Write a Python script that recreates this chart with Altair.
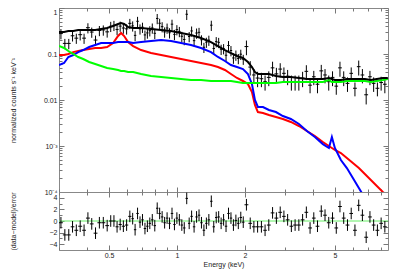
import altair as alt
import pandas as pd

# ---------------- data ----------------
# energy bin edges (keV)
edges = [0.300, 0.312, 0.325, 0.338, 0.351, 0.365, 0.380, 0.395, 0.411, 0.427, 0.444, 0.462, 0.481, 0.500,
         0.517, 0.534, 0.551, 0.569, 0.588, 0.608, 0.628,
         0.644, 0.660, 0.677, 0.694, 0.712, 0.730, 0.748, 0.767, 0.787, 0.807,
         0.827, 0.848, 0.870, 0.892, 0.915, 0.938, 0.962, 0.986, 1.011, 1.037,
         1.063, 1.090, 1.118, 1.146, 1.175, 1.205, 1.236, 1.267, 1.299, 1.332,
         1.366, 1.401, 1.436, 1.473, 1.510, 1.548, 1.588, 1.628, 1.669, 1.712,
         1.755, 1.800, 1.845, 1.892, 1.940, 1.990,
         2.07, 2.15, 2.23, 2.32, 2.41, 2.50, 2.60, 2.70, 2.81, 2.92,
         3.03, 3.15, 3.27, 3.40, 3.53, 3.67, 3.81, 3.96, 4.11, 4.27,
         4.44, 4.61, 4.79, 4.98, 5.17, 5.37, 5.58, 5.80, 6.02, 6.26,
         6.50, 6.75, 7.02, 7.29, 7.57, 7.87, 8.17, 8.49]

# normalized counts s^-1 keV^-1
flux = [0.278, 0.170, 0.170, 0.249, 0.221, 0.263, 0.221, 0.373, 0.300, 0.201, 0.325, 0.334, 0.303,
        0.400, 0.420, 0.342, 0.404, 0.367, 0.352, 0.464,
        0.409, 0.254, 0.514, 0.352, 0.383, 0.260, 0.287, 0.321, 0.368, 0.282,
        0.592, 0.466, 0.393, 0.302, 0.367, 0.290, 0.445, 0.267, 0.339, 0.310,
        0.243, 0.207, 0.731, 0.240, 0.317, 0.195, 0.286, 0.296, 0.204, 0.140,
        0.181, 0.200, 0.423, 0.132, 0.186, 0.179, 0.127, 0.131, 0.094, 0.153,
        0.119, 0.082, 0.095, 0.080, 0.099, 0.077,
        0.145, 0.052, 0.035, 0.030, 0.029, 0.025, 0.031, 0.050, 0.037, 0.047,
        0.038, 0.033, 0.025, 0.025, 0.025, 0.030, 0.042, 0.021, 0.032, 0.022,
        0.043, 0.035, 0.025, 0.031, 0.020, 0.050, 0.031, 0.023, 0.038, 0.018,
        0.053, 0.035, 0.013, 0.032, 0.023, 0.018, 0.024, 0.022]

flux_err = [0.070, 0.043, 0.043, 0.062, 0.055, 0.066, 0.055, 0.093, 0.075, 0.050, 0.081, 0.084, 0.076,
            0.100, 0.105, 0.086, 0.101, 0.092, 0.088, 0.116,
            0.102, 0.064, 0.128, 0.088, 0.096, 0.065, 0.072, 0.080, 0.092, 0.071,
            0.148, 0.117, 0.098, 0.076, 0.092, 0.073, 0.111, 0.067, 0.085, 0.078,
            0.061, 0.052, 0.183, 0.060, 0.079, 0.049, 0.072, 0.074, 0.051, 0.035,
            0.045, 0.050, 0.106, 0.033, 0.047, 0.045, 0.032, 0.033, 0.024, 0.038,
            0.030, 0.021, 0.024, 0.020, 0.025, 0.019,
            0.051, 0.018, 0.012, 0.011, 0.010, 0.009, 0.011, 0.018, 0.013, 0.016,
            0.013, 0.012, 0.009, 0.009, 0.009, 0.011, 0.015, 0.007, 0.011, 0.008,
            0.015, 0.012, 0.009, 0.011, 0.007, 0.018, 0.011, 0.008, 0.013, 0.006,
            0.019, 0.012, 0.005, 0.011, 0.008, 0.006, 0.008, 0.008]

# (data-model)/error
resid = [-0.3, -2.4, -2.4, -1.0, -1.6, -0.9, -1.6, 0.5, -0.5, -2.1, -0.3, -0.3, -0.8,
         0.0, 0.0, -1.0, -0.6, -0.9, -0.7, 0.8,
         0.4, -1.5, 1.3, -0.2, 0.2, -1.3, -0.9, -0.4, 0.2, -0.8,
         2.2, 1.3, 0.7, -0.3, 0.5, -0.4, 1.3, -0.6, 0.5, 0.2,
         -0.7, -1.2, 3.9, -0.4, 0.8, -1.0, 0.7, 1.0, -0.3, -1.6,
         -0.4, 0.2, 3.4, -1.0, 0.6, 0.7, -0.4, 0.2, -0.9, 1.3,
         0.5, -0.7, 0.1, -0.4, 0.6, -0.2,
         2.8, -0.4, -1.0, -1.0, -1.0, -1.6, -0.7, 1.4, 0.5, 1.5,
         0.8, 0.2, -0.9, -0.7, -0.7, 0.2, 1.5, -1.2, 0.5, -0.9,
         1.7, 1.0, -0.3, 0.5, -1.2, 2.5, 0.5, -0.7, 1.3, -1.6,
         2.7, 1.0, -2.8, 0.7, -0.7, -1.6, -0.4, -1.0]

# model curves (keV grid)
model_e = [0.300, 0.316, 0.330, 0.347, 0.365, 0.384, 0.408, 0.434, 0.461, 0.490,
           0.521, 0.548, 0.565, 0.583, 0.607, 0.639, 0.693, 0.767, 0.850, 0.941,
           1.042, 1.153, 1.277, 1.414, 1.518, 1.630, 1.733, 1.843, 1.959, 2.061,
           2.147, 2.213, 2.281, 2.402, 2.553, 2.742, 2.944, 3.193, 3.467, 3.760,
           4.080, 4.426, 4.707, 4.852, 5.002, 5.318, 5.653, 6.010, 6.389, 6.792,
           7.220, 7.675, 8.159, 8.585]

model_total = [0.301, 0.301, 0.316, 0.316, 0.333, 0.333, 0.333, 0.333, 0.350, 0.367,
               0.406, 0.449, 0.472, 0.449, 0.386, 0.367, 0.367, 0.350, 0.333, 0.316,
               0.286, 0.259, 0.223, 0.182, 0.149, 0.122, 0.105, 0.0905, 0.0819, 0.0670,
               0.0522, 0.0406, 0.0367, 0.0367, 0.0367, 0.0332, 0.0316, 0.0316, 0.0301, 0.0286,
               0.0286, 0.0286, 0.0301, 0.0286, 0.0272, 0.0272, 0.0286, 0.0286, 0.0286, 0.0286,
               0.0272, 0.0286, 0.0301, 0.0301]

model_red = [0.0951, 0.0951, 0.100, 0.110, 0.116, 0.122, 0.128, 0.135, 0.135, 0.142,
             0.173, 0.246, 0.286, 0.246, 0.182, 0.149, 0.122, 0.105, 0.0951, 0.0861,
             0.0779, 0.0705, 0.0637, 0.0577, 0.0522, 0.0449, 0.0367, 0.0301, 0.0259, 0.0223,
             0.0149, 0.00779, 0.00548, 0.00522, 0.00472, 0.00427, 0.00386, 0.00333, 0.00272, 0.00212,
             0.00165, 0.00122, 0.00100, 0.000905, 0.000819, 0.000705, 0.000548, 0.000427, 0.000332, 0.000246,
             0.000182, 0.000135, 0.000100, 0.0000818]

model_blue = [0.0577, 0.0637, 0.0861, 0.0951, 0.110, 0.122, 0.142, 0.157, 0.173, 0.173,
              0.173, 0.182, 0.182, 0.182, 0.182, 0.173, 0.182, 0.192, 0.201, 0.192,
              0.173, 0.157, 0.135, 0.110, 0.0861, 0.0705, 0.0577, 0.0522, 0.0472, 0.0367,
              0.0223, 0.0100, 0.00705, 0.00705, 0.00606, 0.00548, 0.00449, 0.00386, 0.00301, 0.00212,
              0.00157, 0.00110, 0.000905, 0.00157, 0.000905, 0.000496, 0.000332, 0.000201, 0.000122, 0.0000741,
              0.000045, 0.000028, 0.000018, 0.000013]

model_green = [0.149, 0.135, 0.116, 0.100, 0.0861, 0.0779, 0.0670, 0.0606, 0.0548, 0.0496,
               0.0472, 0.0449, 0.0427, 0.0427, 0.0406, 0.0406, 0.0367, 0.0332, 0.0316, 0.0301,
               0.0286, 0.0272, 0.0272, 0.0259, 0.0259, 0.0259, 0.0259, 0.0246, 0.0234, 0.0234,
               0.0234, 0.0234, 0.0234, 0.0234, 0.0234, 0.0234, 0.0246, 0.0246, 0.0246, 0.0246,
               0.0246, 0.0246, 0.0272, 0.0246, 0.0246, 0.0246, 0.0259, 0.0259, 0.0259, 0.0259,
               0.0246, 0.0259, 0.0272, 0.0286]

# axis ticks
x_major = [0.5, 1, 2, 5]
x_minor = [0.3, 0.4, 0.6, 0.7, 0.8, 0.9, 3, 4, 6, 7, 8]
y_major = [0.0001, 0.001, 0.01, 0.1, 1]
y_minor = [0.0002, 0.0003, 0.0004, 0.0005, 0.0006, 0.0007, 0.0008, 0.0009,
           0.002, 0.003, 0.004, 0.005, 0.006, 0.007, 0.008, 0.009,
           0.02, 0.03, 0.04, 0.05, 0.06, 0.07, 0.08, 0.09,
           0.2, 0.3, 0.4, 0.5, 0.6, 0.7, 0.8, 0.9]
r_major = [-4, -2, 0, 2, 4]
r_minor = [-3, -1, 1, 3]

# ---------------- tables ----------------
n = min(len(edges) - 1, len(flux), len(flux_err), len(resid))
e_lo = edges[:n]
e_hi = edges[1:n + 1]
spec_df = pd.DataFrame({
    "elo": e_lo,
    "ehi": e_hi,
    "e": [(a * b) ** 0.5 for a, b in zip(e_lo, e_hi)],
    "f": flux[:n],
    "flo": [f - s for f, s in zip(flux[:n], flux_err[:n])],
    "fhi": [f + s for f, s in zip(flux[:n], flux_err[:n])],
    "r": resid[:n],
    "rlo": [r - 1.0 for r in resid[:n]],
    "rhi": [r + 1.0 for r in resid[:n]],
})
model_df = pd.DataFrame({"e": model_e, "total": model_total, "red": model_red,
                         "blue": model_blue, "green": model_green})
zero_df = pd.DataFrame({"z": [0.0]})

W = 329
H_TOP = 184
H_BOT = 58
FONT = "Liberation Sans"

xs = alt.Scale(type="log", domain=[0.3, 8.6], nice=False)
ys = alt.Scale(type="log", domain=[0.0001, 1], nice=False)
rs = alt.Scale(domain=[-5, 5], nice=False, zero=False)

AX = dict(domain=False, grid=False, labelFont=FONT, labelFontSize=7, labelColor="#222",
          tickColor="#777", tickWidth=1, titleFont=FONT, titleFontSize=7,
          titleFontWeight="normal", titleColor="#222", labelOverlap=False, labelFlush=False)

ts_x = alt.ExprRef(expr="indexof([0.5,1,2,5], datum.value) >= 0 ? -5 : -3")
ts_y = alt.ExprRef(expr="indexof([0.0001,0.001,0.01,0.1,1], datum.value) >= 0 ? -5 : -3")
ts_r = alt.ExprRef(expr="indexof([-4,-2,0,2,4], datum.value) >= 0 ? -5 : -3")

x_vals = x_major + x_minor
y_vals = y_major + y_minor
r_vals = r_major + r_minor

y_label_expr = ("datum.value==1?'1':datum.value==0.1?'0.1':datum.value==0.01?'0.01':"
                "datum.value==0.001?'10⁻³':datum.value==0.0001?'10⁻⁴':''")
x_label_expr = ("datum.value==0.5?'0.5':datum.value==1?'1':datum.value==2?'2':"
                "datum.value==5?'5':''")
r_label_expr = "indexof([-4,-2,0,2,4], datum.value) >= 0 ? format(datum.value, 'd') : ''"

# ---------------- top panel ----------------
vbars = alt.Chart(spec_df).mark_rule(color="black", strokeWidth=1, clip=True).encode(
    x=alt.X("e:Q", scale=xs, axis=alt.Axis(orient="bottom", values=x_vals, labels=False,
                                              tickSize=ts_x, title=None, **AX)),
    y=alt.Y("flo:Q", scale=ys, axis=alt.Axis(orient="left", values=y_vals, labelExpr=y_label_expr,
                                                tickSize=ts_y, labelPadding=7,
                                                labelBaseline={"condition": {"test": "datum.value == 1",
                                                                             "value": "top"},
                                                               "value": "middle"},
                                                title="normalized counts s⁻¹ keV⁻¹",
                                                titleX=-46, titleY=H_TOP / 2, titleAngle=-90,
                                                titleAlign="center", titleBaseline="middle", **AX)),
    y2="fhi:Q",
)
hbars = alt.Chart(spec_df).mark_rule(color="black", strokeWidth=1, clip=True).encode(
    x=alt.X("elo:Q", scale=xs, axis=alt.Axis(orient="top", values=x_vals, labels=False,
                                                tickSize=ts_x, title=None, **AX)),
    x2="ehi:Q",
    y=alt.Y("f:Q", scale=ys, axis=alt.Axis(orient="right", values=y_vals, labels=False,
                                              tickSize=ts_y, title=None, **AX)),
)


def model_line(col, color):
    return alt.Chart(model_df).mark_line(color=color, strokeWidth=2, interpolate="linear",
                                          clip=True).encode(
        x=alt.X("e:Q", scale=xs, axis=None),
        y=alt.Y(f"{col}:Q", scale=ys, axis=None),
    )


top = alt.layer(
    vbars, hbars,
    model_line("red", "#ff0000"),
    model_line("blue", "#0000ff"),
    model_line("green", "#00ff00"),
    model_line("total", "#000000"),
).resolve_axis(x="independent", y="independent").properties(width=W, height=H_TOP)

# ---------------- bottom panel ----------------
rv = alt.Chart(spec_df).mark_rule(color="black", strokeWidth=1, clip=True).encode(
    x=alt.X("e:Q", scale=xs, axis=alt.Axis(orient="bottom", values=x_vals, labelExpr=x_label_expr,
                                              tickSize=ts_x, labelPadding=6, title="Energy (keV)",
                                              titlePadding=0, **AX)),
    y=alt.Y("rlo:Q", scale=rs, axis=alt.Axis(orient="left", values=r_vals, labelExpr=r_label_expr,
                                                tickSize=ts_r, labelPadding=7,
                                                title="(data−model)/error",
                                                titleX=-46, titleY=H_BOT / 2, titleAngle=-90,
                                                titleAlign="center", titleBaseline="middle", **AX)),
    y2="rhi:Q",
)
rh = alt.Chart(spec_df).mark_rule(color="black", strokeWidth=1, clip=True).encode(
    x=alt.X("elo:Q", scale=xs, axis=alt.Axis(orient="top", values=x_vals, labels=False,
                                                tickSize=ts_x, title=None, **AX)),
    x2="ehi:Q",
    y=alt.Y("r:Q", scale=rs, axis=alt.Axis(orient="right", values=r_vals, labels=False,
                                              tickSize=ts_r, title=None, **AX)),
)
zline = alt.Chart(zero_df).mark_rule(color="#66ee66", strokeWidth=1).encode(
    y=alt.Y("z:Q", scale=rs, axis=None),
)

bottom = alt.layer(zline, rv, rh).resolve_axis(x="independent", y="independent").properties(
    width=W, height=H_BOT)

chart = alt.vconcat(top, bottom, spacing=0, bounds="flush").properties(
    padding={"left": 0, "top": -3, "right": 5, "bottom": 5},
    background="white",
).configure_view(stroke="#888", strokeWidth=1).configure_concat(spacing=0)

chart.save("out.html", embed_options={"renderer": "svg", "actions": False})
